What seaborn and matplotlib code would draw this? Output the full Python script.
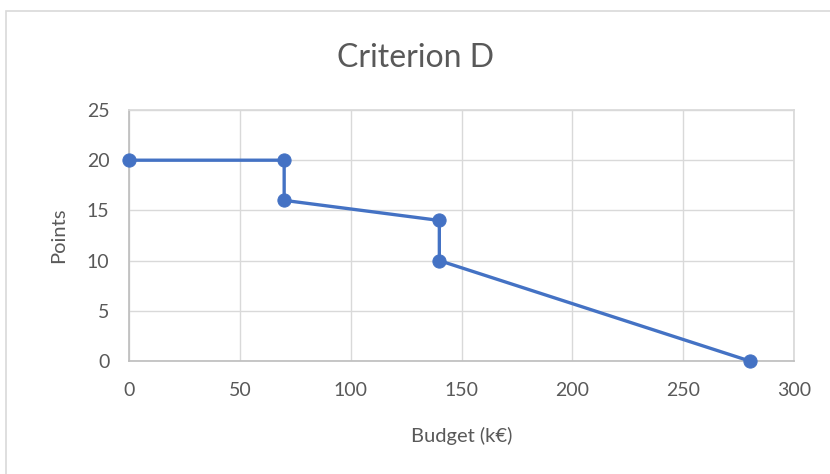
import numpy as np
import pandas as pd
import seaborn as sns
import matplotlib.pyplot as plt
from matplotlib.patches import Rectangle

budget = [0, 70, 70, 140, 140, 280]
points = [20, 20, 16, 14, 10, 0]
x_ticks = [0, 50, 100, 150, 200, 250, 300]
y_ticks = [0, 5, 10, 15, 20, 25]

df = pd.DataFrame({'budget': budget, 'points': points})

sns.set_theme(style='white')
plt.rcParams['font.family'] = ['Lato', 'DejaVu Sans']
grey = '#595959'

fig = plt.figure(figsize=(8.3, 4.74), dpi=100)
ax = fig.add_axes([129/830, 1 - 361/474, (794 - 129)/830, (361 - 110)/474])

# chart frame like the Excel chart area
fig.patches.append(Rectangle((6/830, -0.05), 1.0, 1 - 11/474 + 0.05,
                             transform=fig.transFigure, fill=False,
                             edgecolor='#D9D9D9', linewidth=1.2))

sns.lineplot(data=df, x='budget', y='points', sort=False, estimator=None,
             ax=ax, color='#4472C4', linewidth=2.4, marker='o', markersize=9.5,
             markeredgecolor='#4472C4', clip_on=False, zorder=3)

ax.set_xlim(0, 300)
ax.set_ylim(0, 25)
ax.set_xticks(x_ticks)
ax.set_yticks(y_ticks)
ax.grid(True, color='#D9D9D9', linewidth=1)
for s in ax.spines.values():
    s.set_color('#D9D9D9')
ax.spines['bottom'].set_color('#BFBFBF')
ax.spines['left'].set_color('#BFBFBF')
ax.tick_params(axis='x', length=0, labelsize=14, labelcolor=grey, pad=15)
ax.tick_params(axis='y', length=0, labelsize=14, labelcolor=grey, pad=14)

ax.set_xlabel('Budget (k€)', fontsize=14.5, color=grey, labelpad=20)
ax.set_ylabel('Points', fontsize=14.5, color=grey, labelpad=14)
fig.text(0.5, 1 - 58/474, 'Criterion D', ha='center', va='center',
         fontsize=23, color=grey)

fig.savefig('out.png', dpi=100)
